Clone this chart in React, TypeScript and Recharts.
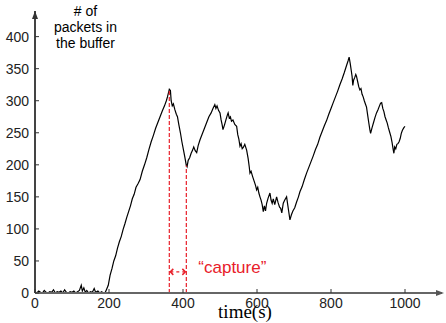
import { LineChart, Line, XAxis, YAxis, ReferenceLine, ReferenceDot } from 'recharts'

// time (s) and buffer occupancy (# packets)
const idleTime = [0, 5, 10, 15, 20, 25, 30, 35, 40, 45, 50, 55, 60, 65, 70, 75, 80, 85, 90, 95, 100, 105, 110, 115, 120, 125, 128, 132, 136, 140, 145, 150, 155, 160, 164, 170, 175, 180, 185, 190]
const idlePackets = [2, 0, 3, 1, 0, 4, 1, 0, 2, 1, 5, 0, 2, 1, 3, 0, 5, 1, 0, 2, 1, 3, 0, 2, 4, 12, 3, 8, 1, 4, 0, 2, 1, 7, 1, 3, 0, 2, 0, 1]

const rampTime = [193, 198, 203, 208, 213, 218, 223, 228, 233, 238, 243, 248, 253, 258, 263, 268, 273, 278, 284, 290, 296, 302, 308, 314, 320, 326, 332, 338, 344, 350, 355, 358, 361, 363, 366]
const rampPackets = [5, 12, 28, 38, 50, 58, 70, 80, 88, 99, 108, 118, 127, 136, 147, 154, 165, 170, 177, 190, 200, 211, 224, 236, 246, 257, 266, 275, 284, 292, 300, 306, 313, 318, 316]

const dropTime = [368, 371, 374, 378, 382, 385, 389, 393, 397, 401, 405, 409, 411, 414, 418, 422, 426, 429, 433, 437, 441, 446, 452, 458, 464, 470, 476, 481, 486, 489, 492, 496, 500, 503, 506, 508, 512, 516, 520, 522, 525, 528, 531, 535, 540, 545, 548, 551, 554, 557, 560, 563, 567, 572, 576, 579, 581, 584, 588, 592, 596, 599, 602, 605, 608, 611, 614, 617, 620, 623, 626, 630, 635, 638, 641, 644, 648, 653, 657, 661, 664, 667, 671, 675, 680, 683, 686, 689, 693, 697, 702, 707, 712, 716]
const dropPackets = [300, 292, 295, 286, 279, 275, 262, 250, 236, 224, 212, 199, 197, 207, 211, 218, 223, 228, 222, 219, 230, 239, 248, 257, 266, 275, 281, 288, 294, 288, 292, 285, 281, 270, 262, 255, 262, 270, 278, 281, 273, 275, 268, 270, 263, 260, 247, 240, 229, 233, 225, 227, 232, 223, 210, 197, 187, 190, 182, 175, 168, 161, 165, 156, 150, 145, 138, 127, 136, 128, 140, 148, 156, 145, 140, 147, 138, 150, 141, 134, 132, 125, 140, 145, 150, 138, 126, 114, 122, 128, 133, 142, 150, 158]

const secondTime = [722, 728, 734, 740, 746, 752, 758, 764, 770, 776, 782, 788, 794, 800, 806, 812, 818, 824, 830, 836, 842, 846, 849, 852, 855, 857, 859, 861, 864, 867, 869, 872, 875, 878, 881, 884, 887, 890, 893, 896, 899, 902, 905, 907, 911, 915, 919, 923, 927, 931, 934, 937, 940, 943, 946, 949, 952, 955, 959, 962, 965, 968, 970, 972, 975, 978, 981, 984, 987, 990, 993, 997, 1000]
const secondPackets = [166, 177, 187, 196, 205, 214, 224, 232, 243, 252, 261, 269, 279, 288, 297, 306, 315, 325, 334, 344, 355, 362, 368, 358, 346, 338, 324, 332, 336, 341, 338, 330, 322, 317, 319, 310, 306, 300, 295, 290, 278, 266, 255, 249, 258, 266, 274, 281, 286, 292, 296, 297, 288, 283, 275, 270, 265, 258, 250, 244, 235, 224, 218, 228, 225, 232, 233, 236, 241, 249, 254, 258, 260]

const xTicks = [0, 200, 400, 600, 800, 1000]
const yTicks = [0, 50, 100, 150, 200, 250, 300, 350, 400]

// capture window: peak and following trough
const capturePeak = { t: 363, v: 318 }
const captureTrough = { t: 409, v: 199 }
const arrowLevel = 33

const time = [...idleTime, ...rampTime, ...dropTime, ...secondTime]
const packets = [...idlePackets, ...rampPackets, ...dropPackets, ...secondPackets]
const data = time.map((t, i) => ({ t, v: packets[i] }))

const RED = '#e8202a'
const SANS = '"Liberation Sans", Arial, sans-serif'

const XTick = ({ x, y, payload }: any) => (
  <g>
    <line x1={x} y1={y} x2={x} y2={y - 4} stroke="#333" />
    <text x={x} y={y + 15} textAnchor="middle" fontSize={14} fill="#222" fontFamily={SANS}>
      {payload.value}
    </text>
  </g>
)

const YTick = ({ x, y, payload }: any) => (
  <g>
    <line x1={x} y1={y} x2={x + 4} y2={y} stroke="#333" />
    <text x={x - 6} y={y + 5} textAnchor="end" fontSize={14} fill="#222" fontFamily={SANS}>
      {payload.value}
    </text>
  </g>
)

const CaptureArrow = (props: any) => {
  const { x1, y1, x2 } = props
  return (
    <g>
      <line x1={x1 + 1} y1={y1} x2={x2 - 1} y2={y1} stroke={RED} strokeWidth={1.3} strokeDasharray="3 3" />
      <polyline points={`${x1 + 4},${y1 - 3} ${x1 + 1},${y1} ${x1 + 4},${y1 + 3}`} fill="none" stroke={RED} strokeWidth={1.5} />
      <polyline points={`${x2 - 4},${y1 - 3} ${x2 - 1},${y1} ${x2 - 4},${y1 + 3}`} fill="none" stroke={RED} strokeWidth={1.5} />
      <text x={x2 + 12} y={y1 + 1} fontSize={17} fill={RED} fontFamily={SANS}>
        “capture”
      </text>
    </g>
  )
}

const UpArrow = ({ cx, cy }: any) => (
  <polygon points={`${cx},${cy} ${cx - 3},${cy + 8} ${cx + 3},${cy + 8}`} fill="#333" />
)

const RightArrow = ({ cx, cy }: any) => (
  <polygon points={`${cx + 2},${cy} ${cx - 6},${cy - 3} ${cx - 6},${cy + 3}`} fill="#555" />
)

export default function App() {
  return (
    <div style={{ position: 'absolute', left: 0, top: 0, width: 446, height: 323, background: '#fff' }}>
      <LineChart width={446} height={323} data={data} margin={{ top: 11, right: 4, bottom: 0, left: 0 }}>
        <XAxis
          dataKey="t"
          type="number"
          domain={[0, 1100]}
          ticks={xTicks}
          interval={0}
          height={30}
          tickSize={0}
          tickMargin={0}
          tickLine={false}
          tick={<XTick />}
          axisLine={{ stroke: '#666', strokeWidth: 2 }}
        />
        <YAxis
          type="number"
          domain={[0, 440]}
          ticks={yTicks}
          interval={0}
          width={35}
          tickSize={0}
          tickMargin={0}
          tickLine={false}
          tick={<YTick />}
          axisLine={{ stroke: '#444', strokeWidth: 2 }}
        />
        <Line
          type="linear"
          dataKey="v"
          stroke="#000"
          strokeWidth={1.2}
          dot={false}
          isAnimationActive={false}
        />
        <ReferenceLine
          segment={[{ x: capturePeak.t, y: 0 }, { x: capturePeak.t, y: capturePeak.v }]}
          stroke={RED}
          strokeWidth={1.2}
          strokeDasharray="4 2"
        />
        <ReferenceLine
          segment={[{ x: captureTrough.t, y: 0 }, { x: captureTrough.t, y: captureTrough.v }]}
          stroke={RED}
          strokeWidth={1.2}
          strokeDasharray="4 2"
        />
        <ReferenceLine
          segment={[{ x: capturePeak.t, y: arrowLevel }, { x: captureTrough.t, y: arrowLevel }]}
          shape={CaptureArrow}
        />
        <ReferenceDot x={0} y={440} ifOverflow="visible" shape={UpArrow} />
        <ReferenceDot x={1100} y={0} ifOverflow="visible" shape={RightArrow} />
      </LineChart>
      <div
        style={{
          position: 'absolute',
          left: 40,
          top: 3,
          width: 91,
          textAlign: 'center',
          fontFamily: SANS,
          fontSize: 14,
          lineHeight: '16px',
          color: '#000',
        }}
      >
        # of
        <br />
        packets in
        <br />
        the buffer
      </div>
      <div
        style={{
          position: 'absolute',
          left: 195,
          top: 301,
          width: 100,
          textAlign: 'center',
          fontFamily: '"Liberation Serif", "Times New Roman", serif',
          fontSize: 19,
          lineHeight: '21px',
          color: '#000',
        }}
      >
        time(s)
      </div>
    </div>
  )
}
